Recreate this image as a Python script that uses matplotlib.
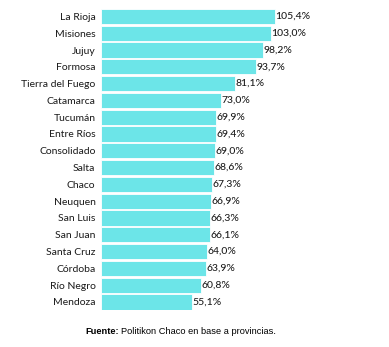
import matplotlib
matplotlib.use("Agg")
import matplotlib.pyplot as plt

provinces = ["La Rioja", "Misiones", "Jujuy", "Formosa", "Tierra del Fuego", "Catamarca",
             "Tucumán", "Entre Ríos", "Consolidado", "Salta", "Chaco", "Neuquen",
             "San Luis", "San Juan", "Santa Cruz", "Córdoba", "Río Negro", "Mendoza"]
values = [105.4, 103.0, 98.2, 93.7, 81.1, 73.0, 69.9, 69.4, 69.0, 68.6, 67.3, 66.9,
          66.3, 66.1, 64.0, 63.9, 60.8, 55.1]
value_labels = ["105,4%", "103,0%", "98,2%", "93,7%", "81,1%", "73,0%", "69,9%", "69,4%",
                "69,0%", "68,6%", "67,3%", "66,9%", "66,3%", "66,1%", "64,0%", "63,9%",
                "60,8%", "55,1%"]

W, H = 389, 347
fig = plt.figure(figsize=(W / 100, H / 100), dpi=100)
ax = fig.add_axes([101 / W, 1 - 310.4 / H, 288 / W, 302.4 / H])

ypos = list(range(len(provinces)))
ax.barh(ypos, values, height=0.9, color="#6ce5e8", edgecolor="white", linewidth=0.6)
ax.set_ylim(len(provinces) - 0.5, -0.5)
ax.set_xlim(0, 288 / 1.65)

for y, v, lab in zip(ypos, values, value_labels):
    ax.text(v + 0.3, y, lab, va="center", ha="left", fontsize=7.5,
            family="Lato", color="#1a1a1a", fontweight="medium")

ax.set_yticks(ypos)
ax.set_yticklabels(provinces, fontsize=7.5, family="Lato", color="#1a1a1a")
ax.tick_params(axis="y", length=0, pad=4)
ax.set_xticks([])
for s in ax.spines.values():
    s.set_visible(False)

fy = 1 - 332 / H
t1 = fig.text(85 / W, fy, "Fuente:", fontsize=6.7, fontweight="bold",
              family="Liberation Sans", ha="left", va="center")
fig.text(121 / W, fy, "Politikon Chaco en base a provincias.", fontsize=6.7,
         family="Liberation Sans", ha="left", va="center")

fig.savefig("out.png", dpi=100)
